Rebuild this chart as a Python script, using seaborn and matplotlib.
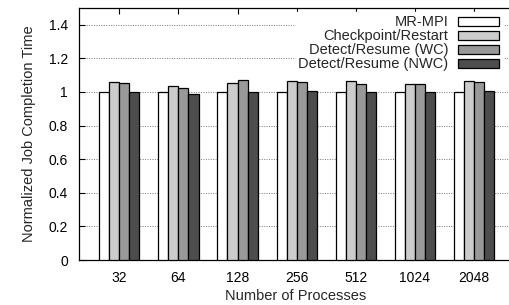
import pandas as pd
import seaborn as sns
import matplotlib.pyplot as plt
from matplotlib.ticker import FormatStrFormatter

processes = ['32', '64', '128', '256', '512', '1024', '2048']
series = ['MR-MPI', 'Checkpoint/Restart', 'Detect/Resume (WC)', 'Detect/Resume (NWC)']
mr_mpi = [1.0, 1.0, 1.0, 1.0, 1.0, 1.0, 1.0]
checkpoint = [1.060, 1.038, 1.056, 1.068, 1.068, 1.050, 1.064]
detect_wc = [1.052, 1.026, 1.074, 1.060, 1.046, 1.046, 1.060]
detect_nwc = [1.000, 0.986, 0.998, 1.008, 0.998, 0.998, 1.004]
colors = ['#ffffff', '#cccccc', '#999999', '#4d4d4d']


def plot_completion_time():
    rows = []
    for name, vals in zip(series, [mr_mpi, checkpoint, detect_wc, detect_nwc]):
        for p, v in zip(processes, vals):
            rows.append({'procs': p, 'series': name, 'time': v})
    df = pd.DataFrame(rows)

    sns.set_style('ticks')
    plt.rcParams['font.family'] = ['Liberation Sans', 'DejaVu Sans']

    fig = plt.figure(figsize=(5.1, 3.05), dpi=100)
    ax = fig.add_axes([0.155, 0.1475, 0.85, 0.8265])

    sns.barplot(data=df, x='procs', y='time', hue='series', order=processes,
                hue_order=series, palette=colors, width=0.68, saturation=1,
                edgecolor='black', linewidth=0.9, ax=ax, zorder=3)

    ax.set_ylim(0, 1.5)
    ax.set_xlim(-0.68, 6.65)
    ax.set_yticks([0, 0.2, 0.4, 0.6, 0.8, 1.0, 1.2, 1.4])
    ax.yaxis.set_major_formatter(FormatStrFormatter('%g'))
    ax.grid(axis='y', color='#777777', linestyle=(0, (1, 1.5)), linewidth=0.7, zorder=0)
    ax.set_axisbelow(True)
    ax.tick_params(axis='both', direction='in', labelsize=10, length=4, width=0.8,
                   colors='black', top=True, right=False)
    ax.tick_params(axis='x', pad=8)
    ax.tick_params(axis='y', pad=8)
    ax.spines['right'].set_visible(False)
    for side in ['left', 'bottom', 'top']:
        ax.spines[side].set_color('black')
        ax.spines[side].set_linewidth(0.9)

    ax.set_xlabel('Number of Processes', fontsize=10.5, labelpad=3)
    ax.set_ylabel('Normalized Job Completion Time', fontsize=10.5, labelpad=9)

    leg = ax.legend(loc='upper right', bbox_to_anchor=(0.978, 0.985), frameon=True,
                    fontsize=10.5, markerfirst=False, handlelength=2.85,
                    handleheight=0.55, labelspacing=0.0, borderpad=0.25,
                    handletextpad=0.65, borderaxespad=0, fancybox=False)
    frame = leg.get_frame()
    frame.set_edgecolor('white')
    frame.set_facecolor('white')
    frame.set_alpha(1)
    leg.set_zorder(5)
    leg._legend_box.align = 'right'

    fig.savefig('out.png', dpi=100)


if __name__ == '__main__':
    plot_completion_time()
